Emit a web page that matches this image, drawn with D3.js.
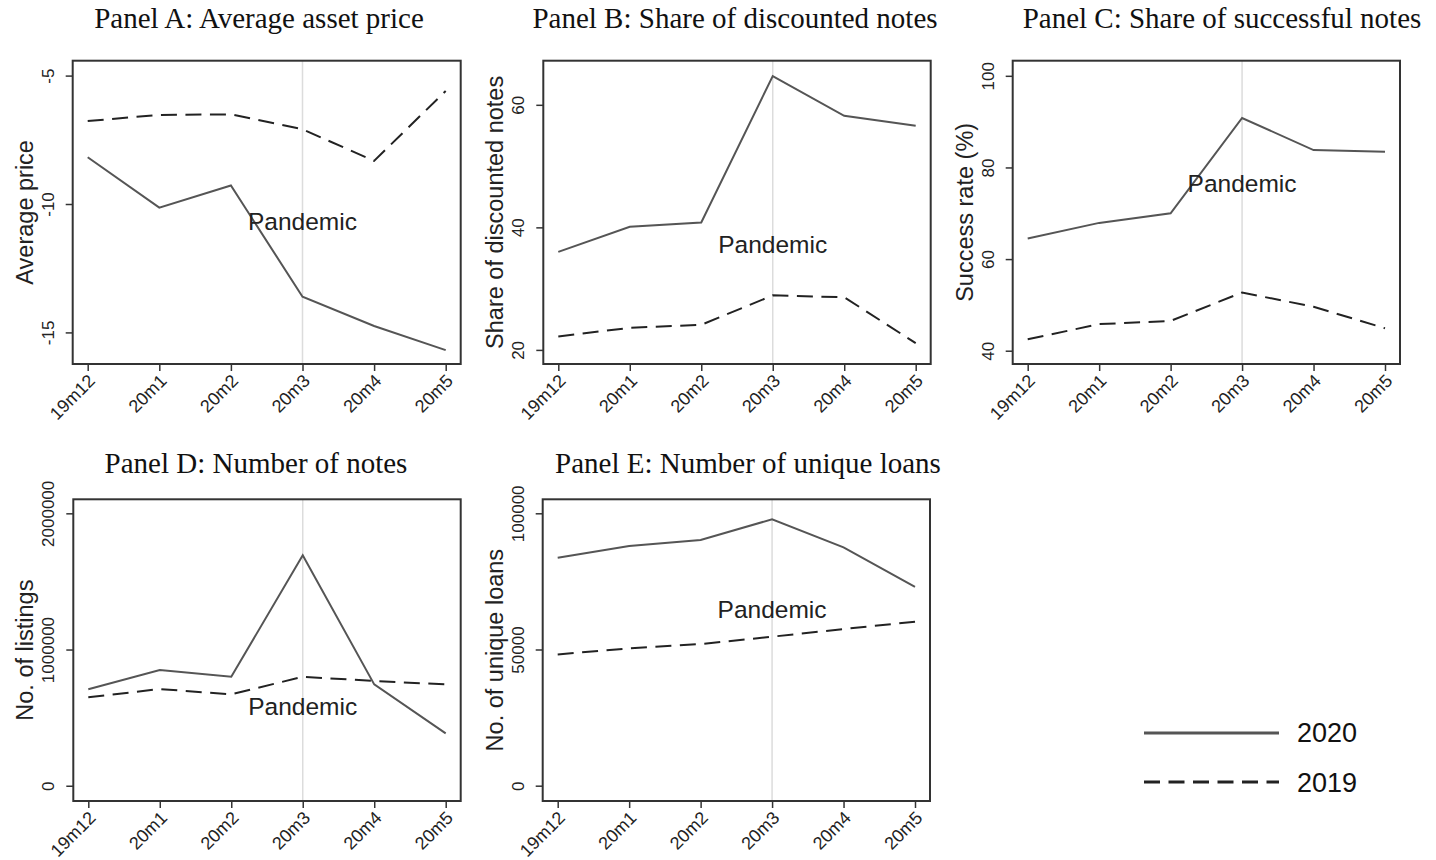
<!DOCTYPE html>
<html>
<head>
<meta charset="utf-8">
<script src="https://cdn.jsdelivr.net/npm/d3@7"></script>
<style>
  html, body { margin: 0; padding: 0; background: #fff; }
  svg { display: block; }
</style>
</head>
<body>
<svg id="chart" width="1436" height="860"></svg>
<script>
// ---------- DATA ----------
const months = ["19m12", "20m1", "20m2", "20m3", "20m4", "20m5"];
const pandemicMonth = "20m3";

const priceY2020 = [-8.18, -10.14, -9.28, -13.61, -14.75, -15.69];
const priceY2019 = [-6.77, -6.53, -6.51, -7.09, -8.32, -5.60];
const priceTicks = [-5, -10, -15];

const discY2020 = [36.0, 40.1, 40.8, 64.7, 58.2, 56.6];
const discY2019 = [22.2, 23.6, 24.1, 28.9, 28.6, 21.1];
const discTicks = [20, 40, 60];

const succY2020 = [64.5, 67.9, 70.0, 90.8, 83.8, 83.4];
const succY2019 = [42.5, 45.8, 46.5, 52.7, 49.6, 44.9];
const succTicks = [40, 60, 80, 100];

const notesY2020 = [708000, 849000, 800000, 1692000, 744000, 385000];
const notesY2019 = [649000, 710000, 671000, 800000, 769000, 744000];
const notesTicks = [0, 1000000, 2000000];

const loansY2020 = [83700, 88000, 90200, 97800, 87500, 73000];
const loansY2019 = [48200, 50400, 52000, 54700, 57500, 60200];
const loansTicks = [0, 50000, 100000];

const legendLabels = ["2020", "2019"];

// ---------- LAYOUT ----------
const panels = [
  { title: "Panel A: Average asset price", ylab: "Average price", s20: priceY2020, s19: priceY2019, ticks: priceTicks,
    domain: [-16.23, -4.42], frame: [72.7, 60.7, 460.7, 364], titleX: 259, titleY: 28, pand: -10.7 },
  { title: "Panel B: Share of discounted notes", ylab: "Share of discounted notes", s20: discY2020, s19: discY2019, ticks: discTicks,
    domain: [17.7, 67.2], frame: [543.3, 60.7, 930.7, 364], titleX: 735, titleY: 28, pand: 37.2 },
  { title: "Panel C: Share of successful notes", ylab: "Success rate (%)", s20: succY2020, s19: succY2019, ticks: succTicks,
    domain: [37.1, 103.3], frame: [1012.7, 60.7, 1400, 364], titleX: 1222, titleY: 28, pand: 76.4 },
  { title: "Panel D: Number of notes", ylab: "No. of listings", s20: notesY2020, s19: notesY2019, ticks: notesTicks,
    domain: [-112000, 2103000], frame: [73.3, 499.3, 460.7, 801], titleX: 256, titleY: 473, pand: 578000 },
  { title: "Panel E: Number of unique loans", ylab: "No. of unique loans", s20: loansY2020, s19: loansY2019, ticks: loansTicks,
    domain: [-5620, 105140], frame: [542.7, 499.3, 930, 801], titleX: 748, titleY: 473, pand: 64500 }
];

const svg = d3.select("#chart");
const sansFont = "'Liberation Sans', Arial, Helvetica, sans-serif";
const serifFont = "'Liberation Serif', 'Times New Roman', serif";

panels.forEach(p => {
  const [x0, y0, x1, y1] = p.frame;
  const x = d3.scalePoint().domain(months).range([x0 + 15, x1 - 15]);
  const y = d3.scaleLinear().domain(p.domain).range([y1, y0]);
  const g = svg.append("g");

  // title
  g.append("text").attr("x", p.titleX).attr("y", p.titleY)
    .attr("text-anchor", "middle").attr("font-family", serifFont)
    .attr("font-size", 29).attr("fill", "#111").text(p.title);

  // pandemic vertical line
  g.append("line").attr("x1", x(pandemicMonth)).attr("x2", x(pandemicMonth))
    .attr("y1", y0).attr("y2", y1).attr("stroke", "#dcdcdc").attr("stroke-width", 1.5);

  // lines
  const line = d3.line().x((d, i) => x(months[i])).y(d => y(d));
  g.append("path").datum(p.s20).attr("d", line).attr("fill", "none")
    .attr("stroke", "#555").attr("stroke-width", 2);
  g.append("path").datum(p.s19).attr("d", line).attr("fill", "none")
    .attr("stroke", "#222").attr("stroke-width", 2).attr("stroke-dasharray", "16,8.5");

  // pandemic label
  g.append("text").attr("x", x(pandemicMonth)).attr("y", y(p.pand) + 8)
    .attr("text-anchor", "middle").attr("font-family", sansFont)
    .attr("font-size", 24.5).attr("fill", "#222").text("Pandemic");

  // frame
  g.append("rect").attr("x", x0).attr("y", y0).attr("width", x1 - x0).attr("height", y1 - y0)
    .attr("fill", "none").attr("stroke", "#333").attr("stroke-width", 2);

  // y axis
  const ya = g.append("g").attr("transform", `translate(${x0},0)`)
    .call(d3.axisLeft(y).tickValues(p.ticks).tickSize(7).tickFormat(d3.format("d")));
  ya.select(".domain").remove();
  ya.selectAll(".tick line").attr("stroke", "#333").attr("stroke-width", 1.5);
  ya.selectAll(".tick text")
    .attr("x", null).attr("dy", null)
    .attr("transform", "translate(-19,0) rotate(-90)")
    .attr("text-anchor", "middle")
    .attr("font-family", sansFont).attr("font-size", 17).attr("fill", "#222")
    .text(d => d3.format("d")(d).replace("\u2212", "-"));

  // y label
  g.append("text").attr("transform", `translate(${x0 - 40},${(y0 + y1) / 2}) rotate(-90)`)
    .attr("text-anchor", "middle").attr("font-family", sansFont)
    .attr("font-size", 23.5).attr("fill", "#222").text(p.ylab);

  // x axis
  const xa = g.append("g").attr("transform", `translate(0,${y1})`)
    .call(d3.axisBottom(x).tickSize(7));
  xa.select(".domain").remove();
  xa.selectAll(".tick line").attr("stroke", "#333").attr("stroke-width", 1.5);
  xa.selectAll(".tick text")
    .attr("y", null).attr("dy", null)
    .attr("transform", "translate(8,18) rotate(-45)")
    .attr("text-anchor", "end")
    .attr("font-family", sansFont).attr("font-size", 18).attr("fill", "#222");
});

// legend
const leg = svg.append("g");
const legendStyles = [
  { stroke: "#555", dash: null, y: 733, ty: 742 },
  { stroke: "#222", dash: "16,8.5", y: 782, ty: 792 }
];
legendLabels.forEach((lab, i) => {
  const s = legendStyles[i];
  leg.append("line").attr("x1", 1144).attr("x2", 1279).attr("y1", s.y).attr("y2", s.y)
    .attr("stroke", s.stroke).attr("stroke-width", 2.8).attr("stroke-dasharray", s.dash);
  leg.append("text").attr("x", 1297).attr("y", s.ty).attr("font-family", sansFont)
    .attr("font-size", 27).attr("fill", "#111").text(lab);
});
</script>
</body>
</html>
